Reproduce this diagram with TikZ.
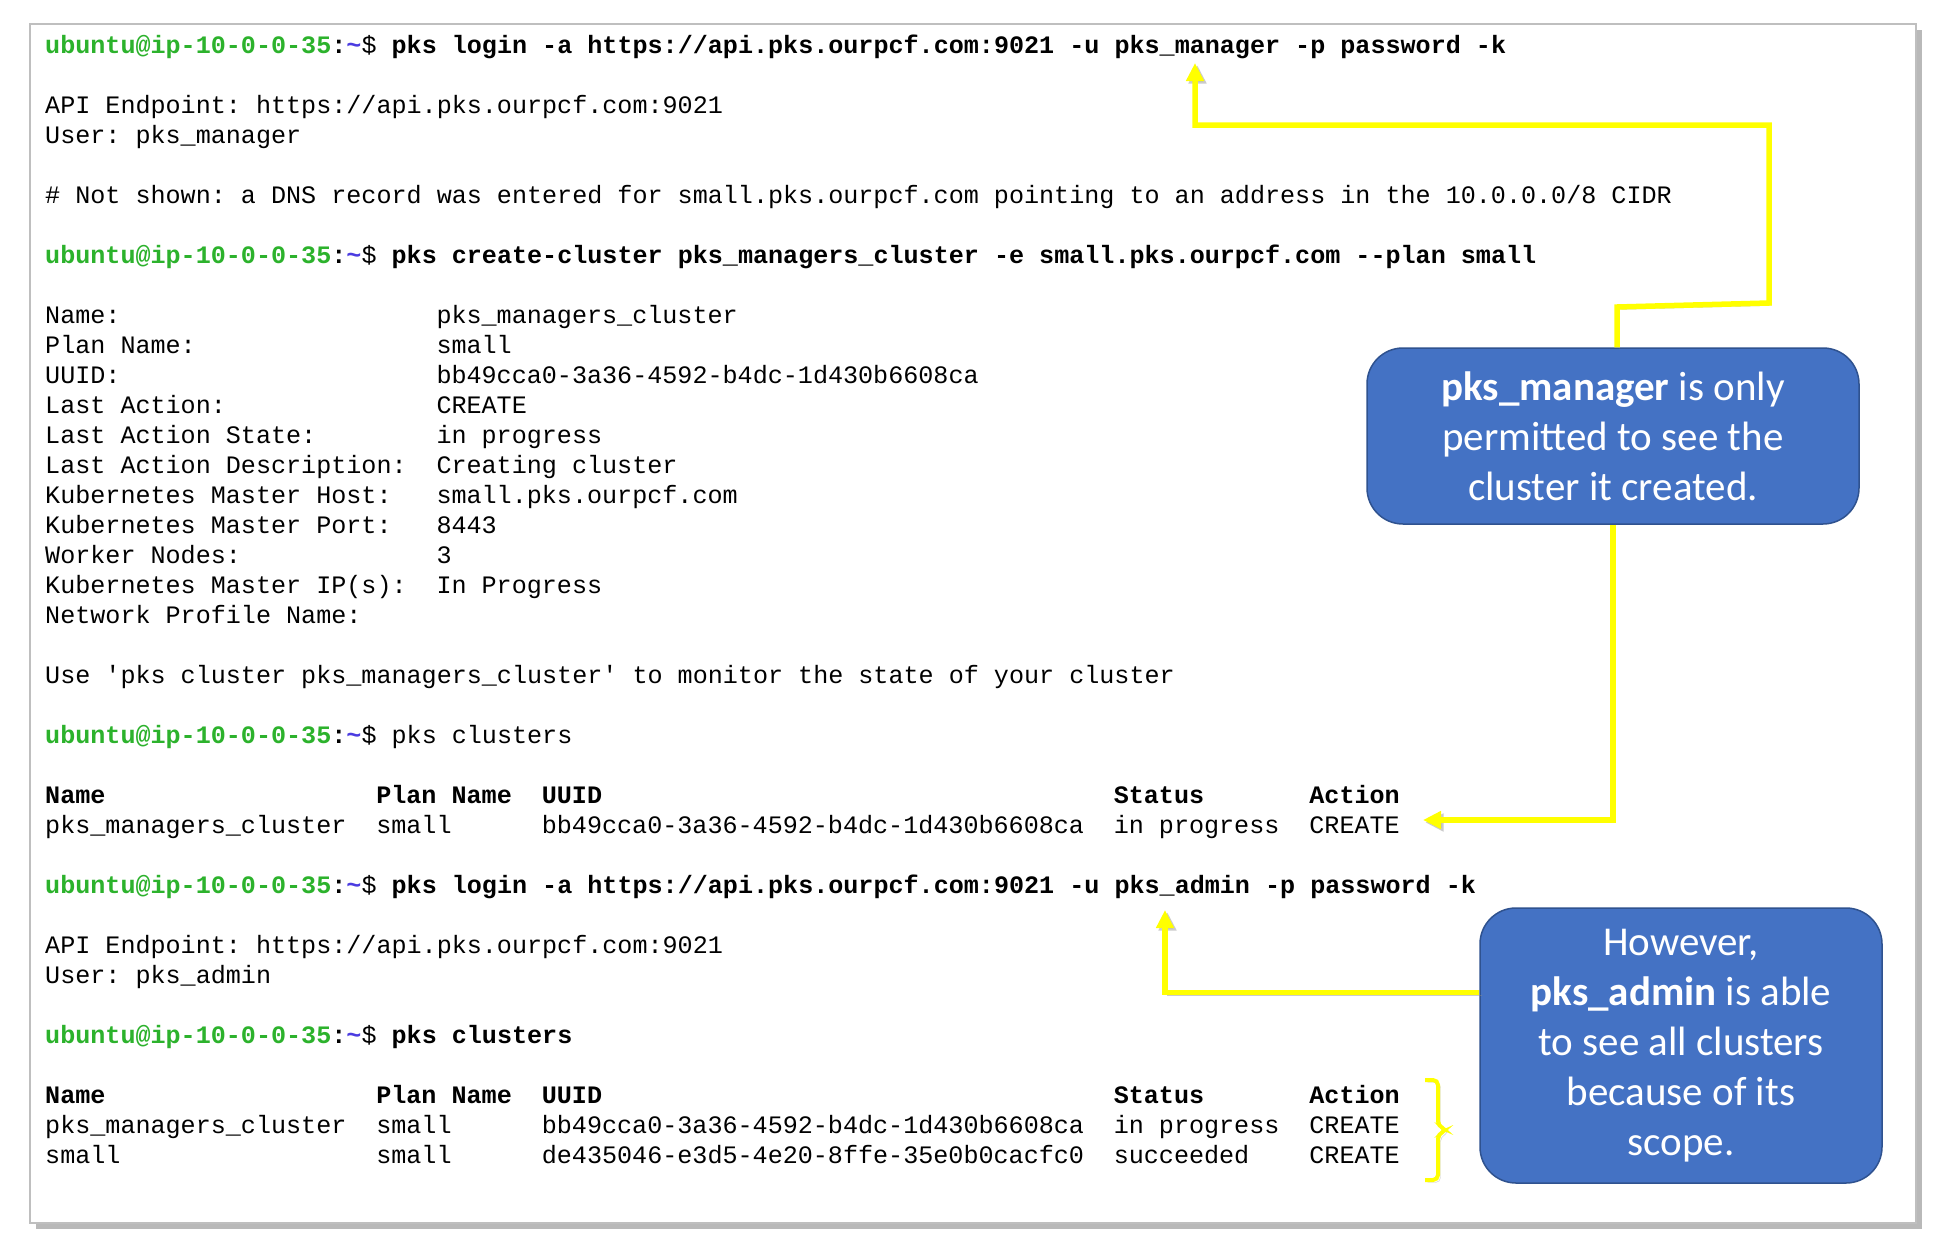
\documentclass[tikz,border=0pt]{standalone}
\usepackage{fontspec}
\usetikzlibrary{arrows.meta,shadows}
\newfontfamily\termfont{Liberation Mono}
\newfontfamily\notefont{Carlito}
\newcommand{\termsize}{\fontsize{25.1pt}{30pt}\selectfont\frenchspacing}
\definecolor{promptgreen}{RGB}{44,178,44}
\definecolor{tildeblue}{RGB}{75,60,225}
\definecolor{noteblue}{RGB}{68,114,196}
\definecolor{noteedge}{RGB}{47,82,143}
\definecolor{markyellow}{RGB}{255,255,0}
\newcommand{\prompt}{{\color{promptgreen}\bfseries ubuntu@ip-10-0-0-35}\textbf{:}{\color{tildeblue}\bfseries\textasciitilde}\$ }
\begin{document}
\begin{tikzpicture}[x=1pt,y=-1pt,
    term/.style={anchor=base west, inner sep=0pt, font=\termfont\termsize},
    termbold/.style={term, font=\termfont\termsize\bfseries},
    note/.style={draw=noteedge, line width=1.5pt, fill=noteblue, rounded corners=36pt,
      text=white, align=center, inner sep=0pt, font=\notefont\fontsize{41pt}{50pt}\selectfont},
    markline/.style={draw=markyellow, preaction={draw=black!45, opacity=.45, transform canvas={shift={(2.5pt,-2.5pt)}}}},
    pointer/.style={markline, line width=5.5pt, -{Triangle[length=18pt,width=17pt]}}]
  \useasboundingbox (0,0) rectangle (1947,1250);
  \fill[white] (0,0) rectangle (1947,1250);
  % terminal frame
  \draw[black!25, line width=2pt, fill=white,
    drop shadow={shadow xshift=6pt, shadow yshift=-6pt, fill=black!50, opacity=.55}] (30,24) rectangle (1916,1223);

  % first login
  \node[term] (login1) at (45,53.3) {\prompt\textbf{pks login -a https://api.pks.ourpcf.com:9021 -u pks\_manager -p password -k}};
  \node[term] (endpoint1) at (45,113.3) {API Endpoint: https://api.pks.ourpcf.com:9021};
  \node[term] (user1) at (45,143.3) {User: pks\_manager};
  \node[term] (dnsnote) at (45,203.3) {\# Not shown: a DNS record was entered for small.pks.ourpcf.com pointing to an address in the 10.0.0.0/8 CIDR};

  % create-cluster and its output
  \node[term] (create) at (45,263.3) {\prompt\textbf{pks create-cluster pks\_managers\_cluster -e small.pks.ourpcf.com --plan small}};
  \foreach \k/\key/\val in {9/{Name:}/{pks\_managers\_cluster}, 10/{Plan Name:}/{small},
      11/{UUID:}/{bb49cca0-3a36-4592-b4dc-1d430b6608ca}, 12/{Last Action:}/{CREATE},
      13/{Last Action State:}/{in progress}, 14/{Last Action Description:}/{Creating cluster},
      15/{Kubernetes Master Host:}/{small.pks.ourpcf.com}, 16/{Kubernetes Master Port:}/{8443},
      17/{Worker Nodes:}/{3}, 18/{Kubernetes Master IP(s):}/{In Progress},
      19/{Network Profile Name:}/{}} {
    \node[term] (key\k) at (45,{53.3+30*\k}) {\key};
    \node[term] (val\k) at (436.3,{53.3+30*\k}) {\val};
  }
  \node[term] (monitor) at (45,683.3) {Use 'pks cluster pks\_managers\_cluster' to monitor the state of your cluster};

  % clusters as pks_manager
  \node[term] (list1) at (45,743.3) {\prompt pks clusters};
  % second login
  \node[term] (login2) at (45,893.3) {\prompt\textbf{pks login -a https://api.pks.ourpcf.com:9021 -u pks\_admin -p password -k}};
  \node[term] (endpoint2) at (45,953.3) {API Endpoint: https://api.pks.ourpcf.com:9021};
  \node[term] (user2) at (45,983.3) {User: pks\_admin};
  % clusters as pks_admin
  \node[term] (list2) at (45,1043.3) {\prompt\textbf{pks clusters}};

  % table headers and rows
  \foreach \y [count=\t] in {803.3,1103.3}
    \foreach \c/\txt in {0/Name, 22/Plan Name, 33/UUID, 71/Status, 84/Action}
      \node[termbold] (head\t-\c) at ({45+15.05*\c},\y) {\txt};
  \foreach \y/\n/\p/\u/\s/\a [count=\r] in {
      833.3/{pks\_managers\_cluster}/small/{bb49cca0-3a36-4592-b4dc-1d430b6608ca}/{in progress}/CREATE,
      1133.3/{pks\_managers\_cluster}/small/{bb49cca0-3a36-4592-b4dc-1d430b6608ca}/{in progress}/CREATE,
      1163.3/small/small/{de435046-e3d5-4e20-8ffe-35e0b0cacfc0}/succeeded/CREATE} {
    \node[term] (row\r-name) at (45,\y) {\n};
    \node[term] (row\r-plan) at ({45+15.05*22},\y) {\p};
    \node[term] (row\r-uuid) at ({45+15.05*33},\y) {\u};
    \node[term] (row\r-status) at ({45+15.05*71},\y) {\s};
    \node[term] (row\r-action) at ({45+15.05*84},\y) {\a};
  }

  % callouts
  \node[note, minimum width=492pt, minimum height=176pt] (mgrnote) at (1613,436)
    {\textbf{pks\_manager} is only\\permitted to see the\\cluster it created.};
  \node[note, minimum width=402pt, minimum height=275pt] (adminnote) at (1681,1045.5)
    {However,\\\textbf{pks\_admin} is able\\to see all clusters\\because of its\\scope.};

  \coordinate (mgrtip) at (1195,63);
  \coordinate (rowtip) at (1423,820);
  \coordinate (admintip) at (1165,910);

  \draw[pointer] ([xshift=4pt]mgrnote.north) -- (1617,307) -- (1769,303) -- (1769,125) -| (mgrtip);
  \draw[pointer] (mgrnote.south) |- (rowtip);
  \draw[pointer] ([yshift=53pt]adminnote.west) -| (admintip);

  % bracket over the two clusters
  \draw[markline, line width=4pt, rounded corners=5pt] (1425,1080) -- (1438,1080) -- (1438,1126)
    -- (1447,1130) -- (1438,1134) -- (1438,1180) -- (1425,1180);
\end{tikzpicture}
\end{document}
